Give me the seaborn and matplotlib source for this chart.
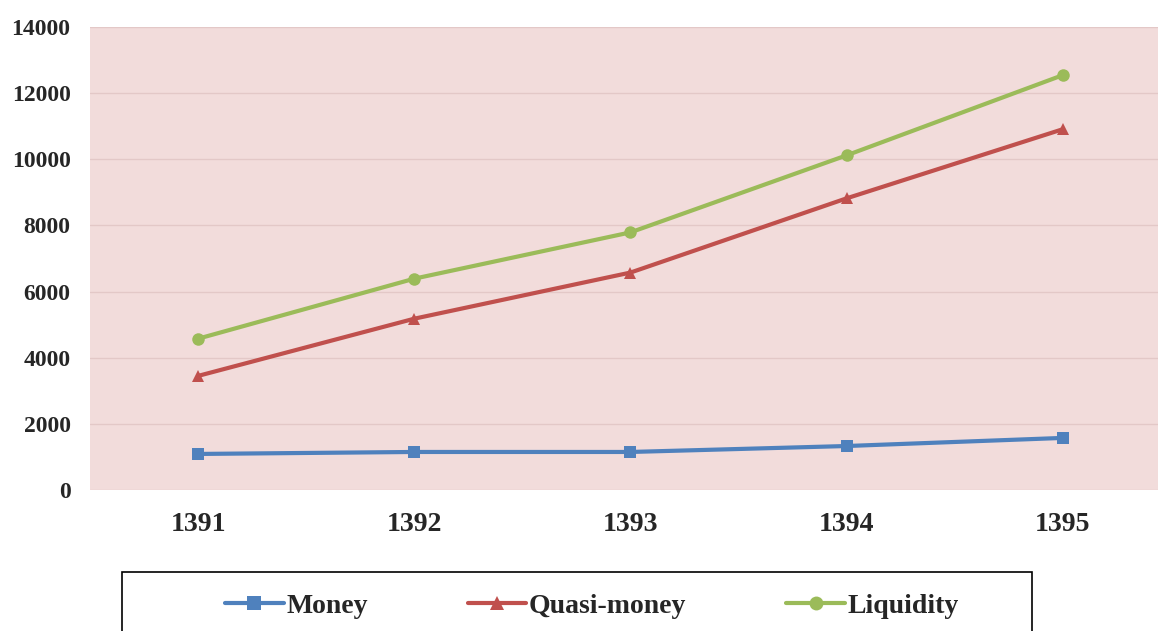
import matplotlib
matplotlib.use("Agg")
import matplotlib.pyplot as plt
from matplotlib.patches import Rectangle
import seaborn as sns
import pandas as pd

years = ["1391", "1392", "1393", "1394", "1395"]
money = [1090, 1150, 1150, 1330, 1575]
quasi_money = [3450, 5180, 6575, 8820, 10910]
liquidity = [4575, 6390, 7790, 10120, 12545]
series_names = ["Money", "Quasi-money", "Liquidity"]
yticks = [0, 2000, 4000, 6000, 8000, 10000, 12000, 14000]

sns.set_theme(style="white")
plt.rcParams['font.family'] = ['Liberation Serif', 'DejaVu Serif']

df = pd.DataFrame({"year": years * 3,
                   "value": money + quasi_money + liquidity,
                   "series": sum([[n] * len(years) for n in series_names], [])})

W, H = 1158, 631
fig = plt.figure(figsize=(W / 100, H / 100), dpi=100)
ax = fig.add_axes([90 / W, 1 - 490 / H, (W - 90) / W, (490 - 27) / H])
ax.set_facecolor("#F2DCDB")

colors = {"Money": "#4F81BD", "Quasi-money": "#C0504D", "Liquidity": "#9BBB59"}
markers = {"Money": "s", "Quasi-money": "^", "Liquidity": "o"}
sns.lineplot(data=df, x="year", y="value", hue="series", style="series",
             palette=colors, markers=markers, dashes=False, linewidth=3,
             markersize=9, markeredgewidth=0, ax=ax, legend=True, sort=False)

ax.set_ylim(0, 14000)
ax.set_xlim(-0.5, 4.44)
ax.set_yticks(yticks)
ax.set_yticklabels([str(v) for v in yticks], fontsize=17, fontweight="bold")
for lab in ax.get_xticklabels():
    lab.set_fontsize(20)
    lab.set_fontweight("bold")
ax.tick_params(axis="x", pad=16, length=0)
ax.tick_params(axis="y", pad=14, length=0)
ax.grid(axis="y", color="#E3C8C7", linewidth=1)
ax.set_axisbelow(True)
for s in ax.spines.values():
    s.set_visible(False)
ax.set_xlabel("")
ax.set_ylabel("")

handles, labels = ax.get_legend_handles_labels()
ax.legend_.remove()
for h in handles:
    h.set_markersize(10)

fig.patches.append(Rectangle((122 / W, -0.05), (1032 - 122) / W, (1 - 572 / H) + 0.05,
                             transform=fig.transFigure, facecolor="white",
                             edgecolor="black", linewidth=1.2, zorder=1))
leg = fig.legend(handles, labels, loc="center",
                 bbox_to_anchor=(592 / W, 1 - 606 / H),
                 ncol=3, frameon=False,
                 prop={"family": "Liberation Serif", "weight": "bold", "size": 20},
                 handlelength=2.1, handletextpad=0.1, columnspacing=3.6)

fig.savefig("out.png", dpi=100, facecolor="white")
